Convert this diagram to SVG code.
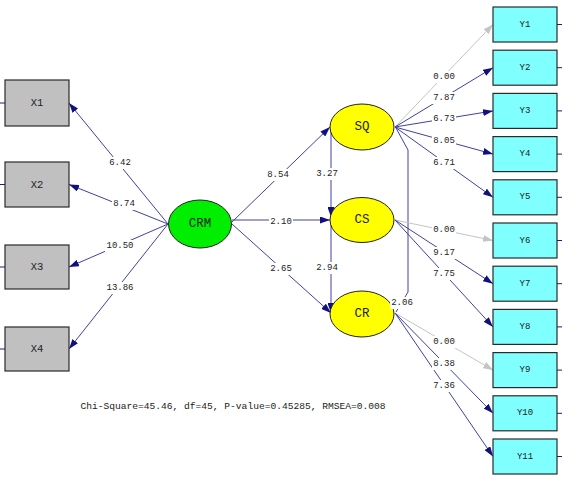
<svg xmlns="http://www.w3.org/2000/svg" width="562" height="479" viewBox="0 0 562 479">
<style>
.ln{stroke:#4040a4;stroke-width:1;fill:none}
.gr{stroke:#c4c4c4;stroke-width:1;fill:none}
.tk{stroke:#1a1a8c;stroke-width:1}
.xb{fill:#c0c0c0;stroke:#2a2a2a;stroke-width:1.2}
.yb{fill:#80ffff;stroke:#2a2a2a;stroke-width:1.2}
.lat{stroke:#222;stroke-width:1}
.nt{font-family:"Liberation Mono",monospace;font-size:10.5px;fill:#222;text-anchor:middle;dominant-baseline:central}
.et{font-family:"Liberation Mono",monospace;font-size:12.5px;fill:#222;text-anchor:middle;dominant-baseline:central}
.lt{font-family:"Liberation Mono",monospace;font-size:9px;fill:#222;text-anchor:middle;dominant-baseline:central}
.bg{fill:#fff}
</style>
<defs>
<marker id="an" markerUnits="userSpaceOnUse" markerWidth="10" markerHeight="7" refX="10" refY="3.5" orient="auto"><path d="M0,0 L10,3.5 L0,7 z" fill="#10107e"/></marker>
<marker id="ag" markerUnits="userSpaceOnUse" markerWidth="10" markerHeight="7" refX="10" refY="3.5" orient="auto"><path d="M0,0 L10,3.5 L0,7 z" fill="#c4c4c4"/></marker>
</defs>
<rect width="562" height="479" fill="#fff"/>
<g id="connectors">
<line class="ln" x1="168" y1="224" x2="69" y2="103" marker-end="url(#an)"/>
<line class="ln" x1="168" y1="224" x2="69" y2="184.5" marker-end="url(#an)"/>
<line class="ln" x1="168" y1="224" x2="69" y2="267" marker-end="url(#an)"/>
<line class="ln" x1="168" y1="224" x2="69" y2="349" marker-end="url(#an)"/>
<line class="ln" x1="232" y1="222" x2="330" y2="127" marker-end="url(#an)"/>
<line class="ln" x1="232" y1="220" x2="330" y2="220" marker-end="url(#an)"/>
<line class="ln" x1="232" y1="224" x2="331" y2="313" marker-end="url(#an)"/>
<line class="ln" x1="331" y1="127" x2="331" y2="217" marker-end="url(#an)"/>
<line class="ln" x1="331" y1="220" x2="331" y2="313" marker-end="url(#an)"/>
<polyline class="ln" points="396,128 408,150 408,292 396,312"/>
<line class="gr" x1="395" y1="127" x2="493" y2="24.5" marker-end="url(#ag)"/>
<line class="ln" x1="395" y1="127" x2="493" y2="67.7" marker-end="url(#an)"/>
<line class="ln" x1="395" y1="127" x2="493" y2="110.9" marker-end="url(#an)"/>
<line class="ln" x1="395" y1="127" x2="493" y2="154.1" marker-end="url(#an)"/>
<line class="ln" x1="395" y1="127" x2="493" y2="197.3" marker-end="url(#an)"/>
<line class="gr" x1="395" y1="220" x2="493" y2="240.5" marker-end="url(#ag)"/>
<line class="ln" x1="395" y1="220" x2="493" y2="283.7" marker-end="url(#an)"/>
<line class="ln" x1="395" y1="220" x2="493" y2="326.9" marker-end="url(#an)"/>
<line class="gr" x1="395" y1="313" x2="493" y2="370.1" marker-end="url(#ag)"/>
<line class="ln" x1="395" y1="313" x2="493" y2="413.3" marker-end="url(#an)"/>
<line class="ln" x1="395" y1="313" x2="493" y2="456.5" marker-end="url(#an)"/>
<line class="tk" x1="0" y1="103" x2="5" y2="103"/>
<line class="tk" x1="0" y1="184.5" x2="5" y2="184.5"/>
<line class="tk" x1="0" y1="267" x2="5" y2="267"/>
<line class="tk" x1="0" y1="349" x2="5" y2="349"/>
<line class="tk" x1="557" y1="24.5" x2="562" y2="24.5"/>
<line class="tk" x1="557" y1="67.7" x2="562" y2="67.7"/>
<line class="tk" x1="557" y1="110.9" x2="562" y2="110.9"/>
<line class="tk" x1="557" y1="154.1" x2="562" y2="154.1"/>
<line class="tk" x1="557" y1="197.3" x2="562" y2="197.3"/>
<line class="tk" x1="557" y1="240.5" x2="562" y2="240.5"/>
<line class="tk" x1="557" y1="283.7" x2="562" y2="283.7"/>
<line class="tk" x1="557" y1="326.9" x2="562" y2="326.9"/>
<line class="tk" x1="557" y1="370.1" x2="562" y2="370.1"/>
<line class="tk" x1="557" y1="413.3" x2="562" y2="413.3"/>
<line class="tk" x1="557" y1="456.5" x2="562" y2="456.5"/>
</g>
<g id="labels">
<rect class="bg" x="108" y="157" width="24" height="12"/><text class="lt" x="120" y="163">6.42</text>
<rect class="bg" x="112" y="198" width="24" height="12"/><text class="lt" x="124" y="204">8.74</text>
<rect class="bg" x="105" y="240" width="30" height="12"/><text class="lt" x="120" y="246">10.50</text>
<rect class="bg" x="105" y="282" width="30" height="12"/><text class="lt" x="120" y="288">13.86</text>
<rect class="bg" x="266" y="169" width="24" height="12"/><text class="lt" x="278" y="175">8.54</text>
<rect class="bg" x="269" y="216" width="24" height="12"/><text class="lt" x="281" y="222">2.10</text>
<rect class="bg" x="269" y="263" width="24" height="12"/><text class="lt" x="281" y="269">2.65</text>
<rect class="bg" x="315" y="168" width="24" height="12"/><text class="lt" x="327" y="174">3.27</text>
<rect class="bg" x="315" y="262" width="24" height="12"/><text class="lt" x="327" y="268">2.94</text>
<rect class="bg" x="432" y="71" width="24" height="12"/><text class="lt" x="444" y="77">0.00</text>
<rect class="bg" x="432" y="92" width="24" height="12"/><text class="lt" x="444" y="98">7.87</text>
<rect class="bg" x="432" y="113" width="24" height="12"/><text class="lt" x="444" y="119">6.73</text>
<rect class="bg" x="432" y="135" width="24" height="12"/><text class="lt" x="444" y="141">8.05</text>
<rect class="bg" x="432" y="157" width="24" height="12"/><text class="lt" x="444" y="163">6.71</text>
<rect class="bg" x="432" y="224" width="24" height="12"/><text class="lt" x="444" y="230">0.00</text>
<rect class="bg" x="432" y="247" width="24" height="12"/><text class="lt" x="444" y="253">9.17</text>
<rect class="bg" x="432" y="268" width="24" height="12"/><text class="lt" x="444" y="274">7.75</text>
<rect class="bg" x="432" y="336" width="24" height="12"/><text class="lt" x="444" y="342">0.00</text>
<rect class="bg" x="432" y="358" width="24" height="12"/><text class="lt" x="444" y="364">8.38</text>
<rect class="bg" x="432" y="380" width="24" height="12"/><text class="lt" x="444" y="386">7.36</text>
</g>
<g id="X1"><rect class="xb" x="5" y="80" width="64" height="46"/><text class="nt" x="37" y="103">X1</text></g>
<g id="X2"><rect class="xb" x="5" y="162" width="64" height="45"/><text class="nt" x="37" y="184.5">X2</text></g>
<g id="X3"><rect class="xb" x="5" y="245" width="64" height="44"/><text class="nt" x="37" y="267">X3</text></g>
<g id="X4"><rect class="xb" x="5" y="327" width="64" height="44"/><text class="nt" x="37" y="349">X4</text></g>
<g id="CRM"><ellipse cx="200" cy="224" rx="31.5" ry="24" fill="#00ee00" class="lat"/><text class="et" x="200" y="224">CRM</text></g>
<g id="SQ"><ellipse cx="362" cy="127" rx="32" ry="23" fill="#ffff00" class="lat"/><text class="et" x="362" y="127">SQ</text></g>
<g id="CS"><ellipse cx="362" cy="220" rx="32" ry="22.5" fill="#ffff00" class="lat"/><text class="et" x="362" y="220">CS</text></g>
<g id="CR"><ellipse cx="362" cy="314" rx="32" ry="23" fill="#ffff00" class="lat"/><text class="et" x="362" y="314">CR</text></g>
<g id="cov-label"><rect class="bg" x="390" y="297" width="24" height="12"/><text class="lt" x="402" y="303">2.06</text></g>
<g id="Y1"><rect class="yb" x="493" y="7" width="64" height="35"/><text class="lt" x="525" y="24.5">Y1</text></g>
<g id="Y2"><rect class="yb" x="493" y="50.2" width="64" height="35"/><text class="lt" x="525" y="67.7">Y2</text></g>
<g id="Y3"><rect class="yb" x="493" y="93.4" width="64" height="35"/><text class="lt" x="525" y="110.9">Y3</text></g>
<g id="Y4"><rect class="yb" x="493" y="136.6" width="64" height="35"/><text class="lt" x="525" y="154.1">Y4</text></g>
<g id="Y5"><rect class="yb" x="493" y="179.8" width="64" height="35"/><text class="lt" x="525" y="197.3">Y5</text></g>
<g id="Y6"><rect class="yb" x="493" y="223" width="64" height="35"/><text class="lt" x="525" y="240.5">Y6</text></g>
<g id="Y7"><rect class="yb" x="493" y="266.2" width="64" height="35"/><text class="lt" x="525" y="283.7">Y7</text></g>
<g id="Y8"><rect class="yb" x="493" y="309.4" width="64" height="35"/><text class="lt" x="525" y="326.9">Y8</text></g>
<g id="Y9"><rect class="yb" x="493" y="352.6" width="64" height="35"/><text class="lt" x="525" y="370.1">Y9</text></g>
<g id="Y10"><rect class="yb" x="493" y="395.8" width="64" height="35"/><text class="lt" x="525" y="413.3">Y10</text></g>
<g id="Y11"><rect class="yb" x="493" y="439" width="64" height="35"/><text class="lt" x="525" y="456.5">Y11</text></g>
<text class="lt" x="233" y="406" style="font-size:9.6px">Chi-Square=45.46, df=45, P-value=0.45285, RMSEA=0.008</text>
</svg>
